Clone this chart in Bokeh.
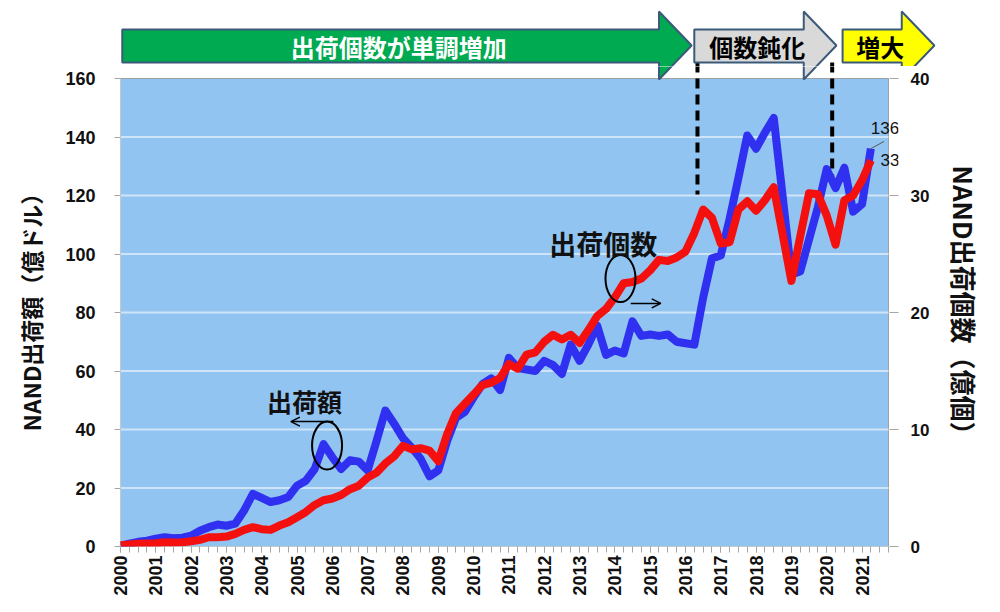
from math import pi
from bokeh.plotting import figure
from bokeh.models import (Range1d, LinearAxis, FixedTicker, Arrow, OpenHead)
from bokeh.layouts import column
from bokeh.core.properties import value
from bokeh.embed import file_html
from bokeh.resources import INLINE

# ---------------- data ----------------
years = [str(y) for y in range(2000, 2022)]
quarter_index = list(range(86))          # 2000Q1 .. 2021Q2
n_categories = 88                        # axis runs to 2021Q4

# NAND shipment value (100M USD)  -> left axis
ship_value = [0.3, 1.0, 1.6, 2.0, 2.7, 3.2, 2.8, 3.0, 3.7, 5.4, 6.6, 7.5,
              7.1, 7.8, 12.3, 18.0, 16.6, 15.2, 15.8, 16.9, 20.8, 22.5,
              26.5, 35.0, 30.5, 26.5, 29.5, 29.0, 26.0, 36.0, 46.5, 42.0,
              37.0, 33.8, 30.0, 24.0, 26.0, 36.0, 44.0, 46.0, 51.0, 55.5,
              57.5, 53.5, 64.5, 61.0, 60.5, 60.0, 63.5, 62.0, 59.0, 69.0,
              63.5, 69.0, 75.5, 65.5, 67.0, 66.0, 77.0, 72.0, 72.5, 72.0,
              72.5, 70.0, 69.5, 69.0, 85.0, 98.5, 99.5, 112.0, 126.0, 140.5,
              136.0, 141.5, 146.5, 120.0, 93.0, 94.0, 105.0, 116.0, 129.0,
              122.5, 129.5, 114.5, 117.0, 136.0]

# NAND shipment units (100M pieces) -> right axis
ship_units = [0.1, 0.17, 0.23, 0.25, 0.28, 0.37, 0.34, 0.37, 0.45, 0.57,
              0.79, 0.79, 0.85, 1.08, 1.42, 1.65, 1.48, 1.42, 1.79, 2.07,
              2.5, 2.95, 3.55, 3.95, 4.1, 4.4, 4.9, 5.2, 5.9, 6.3, 7.1, 7.7,
              8.6, 8.3, 8.4, 8.2, 7.3, 9.6, 11.4, 12.2, 13.0, 13.8, 14.0,
              14.4, 15.6, 15.2, 16.4, 16.6, 17.5, 18.1, 17.7, 18.1, 17.4,
              18.5, 19.7, 20.3, 21.3, 22.5, 22.6, 22.9, 23.6, 24.5, 24.4,
              24.7, 25.2, 26.8, 28.8, 28.1, 25.9, 26.0, 28.8, 29.5, 28.7,
              29.6, 30.7, 26.7, 22.7, 26.5, 30.2, 30.1, 28.3, 25.8, 29.6,
              30.0, 31.3, 33.0]

left_ticks = [0, 20, 40, 60, 80, 100, 120, 140, 160]
right_ticks = [0, 10, 20, 30, 40]

# phases shown as arrows above the chart (in quarter index units)
phase_labels = ["出荷個数が単調増加", "個数鈍化", "増大"]
phase_start = [0.2, 65.0, 81.8]
phase_end = [64.7, 81.1, 92.2]
phase_fill = ["#00aa50", "#d9d9d9", "#ffff00"]
phase_text_color = ["white", "black", "black"]

# dashed phase boundaries: quarter position and lower end (left-axis units)
boundary_x = [65.36, 80.62]
boundary_end = [120.3, 125.1]

# annotations
note_labels = ["出荷額", "出荷個数"]
note_x = [20.84, 54.7]
note_y = [49.9, 103.6]
note_size = ["25px", "27px"]
circle_x = [23.4, 56.64]
circle_y = [34.5, 91.6]
circle_w = [3.4, 3.4]
circle_h = [16.4, 16.1]
arrow_x0 = [24.1, 57.8]
arrow_x1 = [19.3, 61.2]
arrow_y = [42.7, 83.1]

end_labels = ["136", "33"]
end_label_x = [85.0, 86.1]
end_label_y = [143.1, 132.0]

# ---------------- layout constants (page pixels) ----------------
LEFT = 120            # x of the plot-area left edge
PLOT_W = 768          # width of the blue area (87 quarter steps)
FRAME_W = 778
RIGHT = 100
TOP_H = 66            # height of the phase strip
PLOT_TOP = 78         # y of value 160
PLOT_BOTTOM = 546     # y of value 0
BOTTOM = 55
FRAME_H = PLOT_BOTTOM - TOP_H
px_q = PLOT_W / (n_categories - 1)
px_v = (PLOT_BOTTOM - PLOT_TOP) / float(left_ticks[-1])
y_top_main = FRAME_H / px_v
y_top_right = y_top_main * right_ticks[-1] / left_ticks[-1]

BLUE_BG = "#92c4f1"
GRID = "#cfe4f7"
FONT_CJK = "Noto Sans CJK JP"
FONT_NUM = "Liberation Sans"


def v_of(y_px):
    return (PLOT_BOTTOM - y_px) / px_v


# arrow polygon geometry (left-axis value units)
body_top, body_bot = v_of(29), v_of(62)
head_top, head_bot = v_of(11), v_of(79)
tip_y = v_of(45)
head_len = 3.7
arrow_xs, arrow_ys = [], []
for s, e in zip(phase_start, phase_end):
    hb = e - head_len
    arrow_xs.append([s, hb, hb, e, hb, hb, s])
    arrow_ys.append([body_top, body_top, head_top, tip_y, head_bot, body_bot, body_bot])
text_x = [(s + e - head_len * 0.5) / 2 for s, e in zip(phase_start, phase_end)]
text_y = [v_of(46)] * 3


def draw_phases(fig):
    fig.segment(x0=boundary_x, y0=[body_bot] * 2, x1=boundary_x, y1=boundary_end,
                line_color="black", line_width=4, line_dash="10 6")
    fig.patches(xs=arrow_xs, ys=arrow_ys, fill_color=phase_fill,
                line_color="#3b5a7a", line_width=2)


# ---------------- top strip ----------------
TOP_FRAME_W = FRAME_W + RIGHT
top = figure(width=LEFT + TOP_FRAME_W, height=TOP_H,
             frame_width=TOP_FRAME_W, frame_height=TOP_H,
             min_border_left=LEFT, min_border_right=0, min_border_top=0, min_border_bottom=0,
             x_range=Range1d(0, TOP_FRAME_W / px_q),
             y_range=Range1d(y_top_main, y_top_main + TOP_H / px_v),
             x_axis_type=None, y_axis_type=None, toolbar_location=None,
             output_backend="svg", outline_line_color=None)
draw_phases(top)
top.text(x=text_x, y=text_y, text=phase_labels, text_color=phase_text_color,
         text_font=value(FONT_CJK), text_font_style="bold", text_font_size="24px",
         text_align="center", text_baseline="middle")

# ---------------- main chart ----------------
p = figure(width=LEFT + FRAME_W + RIGHT, height=FRAME_H + BOTTOM,
           frame_width=FRAME_W, frame_height=FRAME_H,
           min_border_left=LEFT, min_border_right=RIGHT,
           min_border_top=0, min_border_bottom=BOTTOM,
           x_range=Range1d(0, FRAME_W / px_q), y_range=Range1d(0, y_top_main),
           toolbar_location=None, output_backend="svg", outline_line_color=None)
p.extra_y_ranges = {"right": Range1d(0, y_top_right)}
p.xgrid.visible = False
p.ygrid.visible = False

p.quad(left=[0], right=[n_categories - 1], bottom=[left_ticks[0]], top=[left_ticks[-1]],
       fill_color=BLUE_BG, line_color="#a0a0a0", line_width=1)
p.segment(x0=[0] * 7, y0=left_ticks[1:-1], x1=[n_categories - 1] * 7, y1=left_ticks[1:-1],
          line_color=GRID, line_width=2)
draw_phases(p)

p.line(quarter_index, ship_value, line_color="#3030f0", line_width=8, line_join="round")
p.line(quarter_index, ship_units, line_color="#f51010", line_width=8, line_join="round",
       y_range_name="right")

p.ellipse(x=circle_x, y=circle_y, width=circle_w, height=circle_h,
          fill_color=None, line_color="black", line_width=2)
for x0, x1, y in zip(arrow_x0, arrow_x1, arrow_y):
    p.add_layout(Arrow(end=OpenHead(size=9, line_width=1.5, line_color="black"),
                       x_start=x0, y_start=y, x_end=x1, y_end=y,
                       line_width=1.5, line_color="black"))
for lab, x, y, sz in zip(note_labels, note_x, note_y, note_size):
    p.text(x=[x], y=[y], text=[lab], text_font=value(FONT_CJK),
           text_font_style="bold", text_font_size=sz, text_color="#111111",
           text_align="center", text_baseline="middle")

p.segment(x0=[quarter_index[-1]], y0=[ship_value[-1]], x1=[86.5], y1=[138.5],
          line_color="#555555", line_width=1)
p.text(x=end_label_x, y=end_label_y, text=end_labels, text_font=value(FONT_NUM),
       text_font_size="17px", text_color="#111111", text_align="left",
       text_baseline="middle")

# axes
yl = p.yaxis[0]
yl.ticker = FixedTicker(ticks=left_ticks, minor_ticks=[])
yl.axis_line_color = None
yl.major_tick_out = 6
yl.major_tick_in = 0
yl.major_tick_line_color = "#a6a6a6"
yl.major_label_standoff = 19
yl.major_label_text_font = FONT_NUM
yl.major_label_text_font_style = "bold"
yl.major_label_text_font_size = "18px"
yl.major_label_text_color = "#111111"
yl.axis_label = "NAND出荷額（億ドル）"
yl.axis_label_text_font = FONT_CJK
yl.axis_label_text_font_style = "bold"
yl.axis_label_text_font_size = "23px"
yl.axis_label_text_color = "#111111"
yl.axis_label_standoff = 14

yr = LinearAxis(y_range_name="right", ticker=FixedTicker(ticks=right_ticks, minor_ticks=[]))
yr.axis_line_color = None
yr.major_tick_out = 0
yr.major_tick_in = 9
yr.major_tick_line_color = "#a6a6a6"
yr.major_label_standoff = 12
yr.major_label_text_font = FONT_NUM
yr.major_label_text_font_style = "bold"
yr.major_label_text_font_size = "17px"
yr.major_label_text_color = "#111111"
yr.axis_label = "NAND出荷個数（億個）"
yr.axis_label_text_font = FONT_CJK
yr.axis_label_text_font_style = "bold"
yr.axis_label_text_font_size = "26px"
yr.axis_label_text_color = "#111111"
yr.axis_label_standoff = 14
p.add_layout(yr, "right")

xb = p.xaxis[0]
year_pos = list(range(0, 4 * len(years), 4))
xb.ticker = FixedTicker(ticks=year_pos, minor_ticks=list(range(n_categories)))
xb.major_label_overrides = {pos: lab for pos, lab in zip(year_pos, years)}
xb.axis_line_color = None
xb.major_tick_out = 6
xb.major_tick_in = 0
xb.minor_tick_out = 6
xb.minor_tick_in = 0
xb.major_tick_line_color = "#a6a6a6"
xb.minor_tick_line_color = "#a6a6a6"
xb.major_label_orientation = pi / 2
xb.major_label_standoff = 3
xb.major_label_text_font = FONT_NUM
xb.major_label_text_font_style = "bold"
xb.major_label_text_font_size = "18px"
xb.major_label_text_color = "#111111"

layout = column(top, p)
open("out.html", "w").write(file_html(layout, INLINE))
